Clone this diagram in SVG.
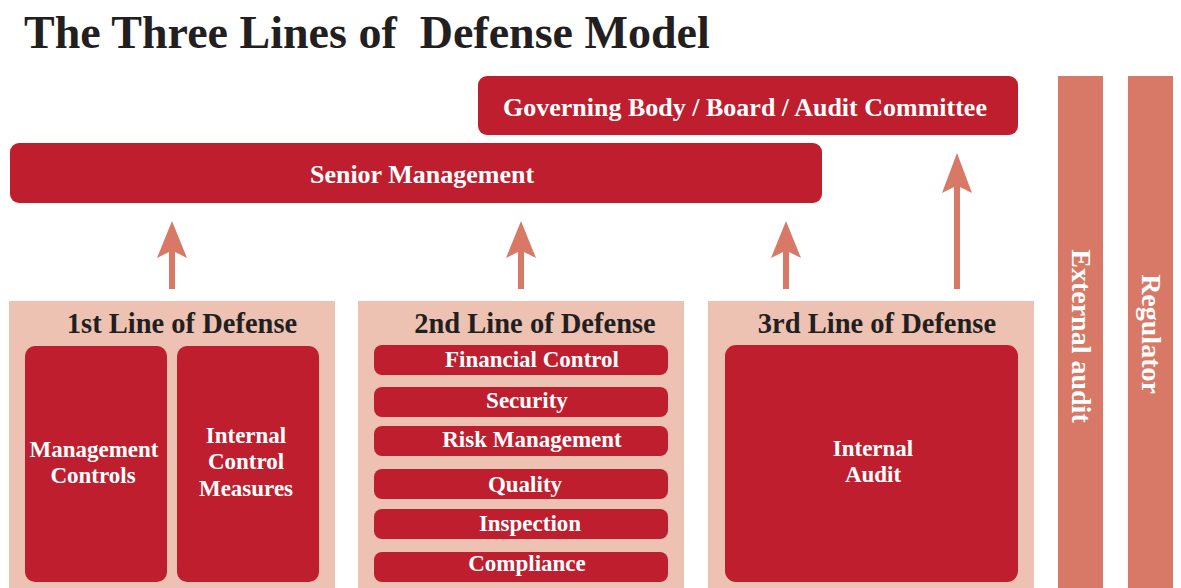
<svg xmlns="http://www.w3.org/2000/svg" width="1181" height="588" viewBox="0 0 1181 588">
  <style>
    text { font-family: "Liberation Serif", "Times New Roman", serif; font-weight: bold; text-anchor: middle; }
    .title { font-size: 46px; fill: #231f20; text-anchor: start; }
    .red { fill: #be1e2d; }
    .panel { fill: #edc2b2; }
    .bar { fill: #d77966; }
    .arrow { fill: #d77966; }
    .wt { fill: #ffffff; }
    .big { font-size: 26px; }
    .head { font-size: 28.5px; fill: #231f20; }
    .item { font-size: 23px; }
    .vert { font-size: 28px; }
  </style>

  <text class="title" x="24" y="48" xml:space="preserve">The Three Lines of  Defense Model</text>

  <g id="governing-body">
    <rect class="red" x="478" y="76" width="540" height="59" rx="9"/>
    <text class="wt big" x="745" y="116">Governing Body / Board / Audit Committee</text>
  </g>

  <g id="senior-management">
    <rect class="red" x="10" y="143" width="812" height="60" rx="9"/>
    <text class="wt big" x="422" y="183">Senior Management</text>
  </g>

  <g id="external-audit">
    <rect class="bar" x="1058" y="76" width="45" height="512"/>
    <text class="wt vert" transform="translate(1072,336) rotate(90)">External audit</text>
  </g>

  <g id="regulator">
    <rect class="bar" x="1128" y="76" width="45" height="512"/>
    <text class="wt vert" transform="translate(1142,334) rotate(90)">Regulator</text>
  </g>

  <g id="first-line">
    <rect class="panel" x="9" y="301" width="326" height="287"/>
    <text class="head" x="182" y="333">1st Line of Defense</text>
    <g id="management-controls">
      <rect class="red" x="25" y="346" width="142" height="236" rx="10"/>
      <text class="wt item" x="94" y="457">Management</text>
      <text class="wt item" x="93" y="483">Controls</text>
    </g>
    <g id="internal-control-measures">
      <rect class="red" x="177" y="346" width="142" height="236" rx="10"/>
      <text class="wt item" x="246" y="443">Internal</text>
      <text class="wt item" x="246" y="469">Control</text>
      <text class="wt item" x="246" y="496">Measures</text>
    </g>
  </g>

  <g id="second-line">
    <rect class="panel" x="358" y="301" width="326" height="287"/>
    <text class="head" x="535" y="333">2nd Line of Defense</text>
    <g id="financial-control">
      <rect class="red" x="374" y="345" width="294" height="30" rx="8"/>
      <text class="wt item" x="532" y="367">Financial Control</text>
    </g>
    <g id="security">
      <rect class="red" x="374" y="387" width="294" height="30" rx="8"/>
      <text class="wt item" x="527" y="408">Security</text>
    </g>
    <g id="risk-management">
      <rect class="red" x="374" y="426" width="294" height="30" rx="8"/>
      <text class="wt item" x="532" y="447">Risk Management</text>
    </g>
    <g id="quality">
      <rect class="red" x="374" y="469" width="294" height="30" rx="8"/>
      <text class="wt item" x="525" y="492">Quality</text>
    </g>
    <g id="inspection">
      <rect class="red" x="374" y="509" width="294" height="30" rx="8"/>
      <text class="wt item" x="530" y="531">Inspection</text>
    </g>
    <g id="compliance">
      <rect class="red" x="374" y="552" width="294" height="30" rx="8"/>
      <text class="wt item" x="527" y="571">Compliance</text>
    </g>
  </g>

  <g id="third-line">
    <rect class="panel" x="708" y="301" width="326" height="287"/>
    <text class="head" x="877" y="333">3rd Line of Defense</text>
    <g id="internal-audit">
      <rect class="red" x="725" y="345" width="293" height="237" rx="11"/>
      <text class="wt item" x="873" y="456">Internal</text>
      <text class="wt item" x="873" y="482">Audit</text>
    </g>
  </g>

  <g id="connectors">
    <!-- upward arrows: tip, barbs, notched base, shaft -->
    <path class="arrow" d="M172,221 L187,258 L175,252 L175,289 L169,289 L169,252 L157,258 Z"/>
    <path class="arrow" d="M521,221 L536,258 L524,252 L524,289 L518,289 L518,252 L506,258 Z"/>
    <path class="arrow" d="M786,221 L801,258 L789,252 L789,289 L783,289 L783,252 L771,258 Z"/>
    <path class="arrow" d="M957,153 L972,193 L960,187 L960,289 L954,289 L954,187 L942,193 Z"/>
  </g>
</svg>
